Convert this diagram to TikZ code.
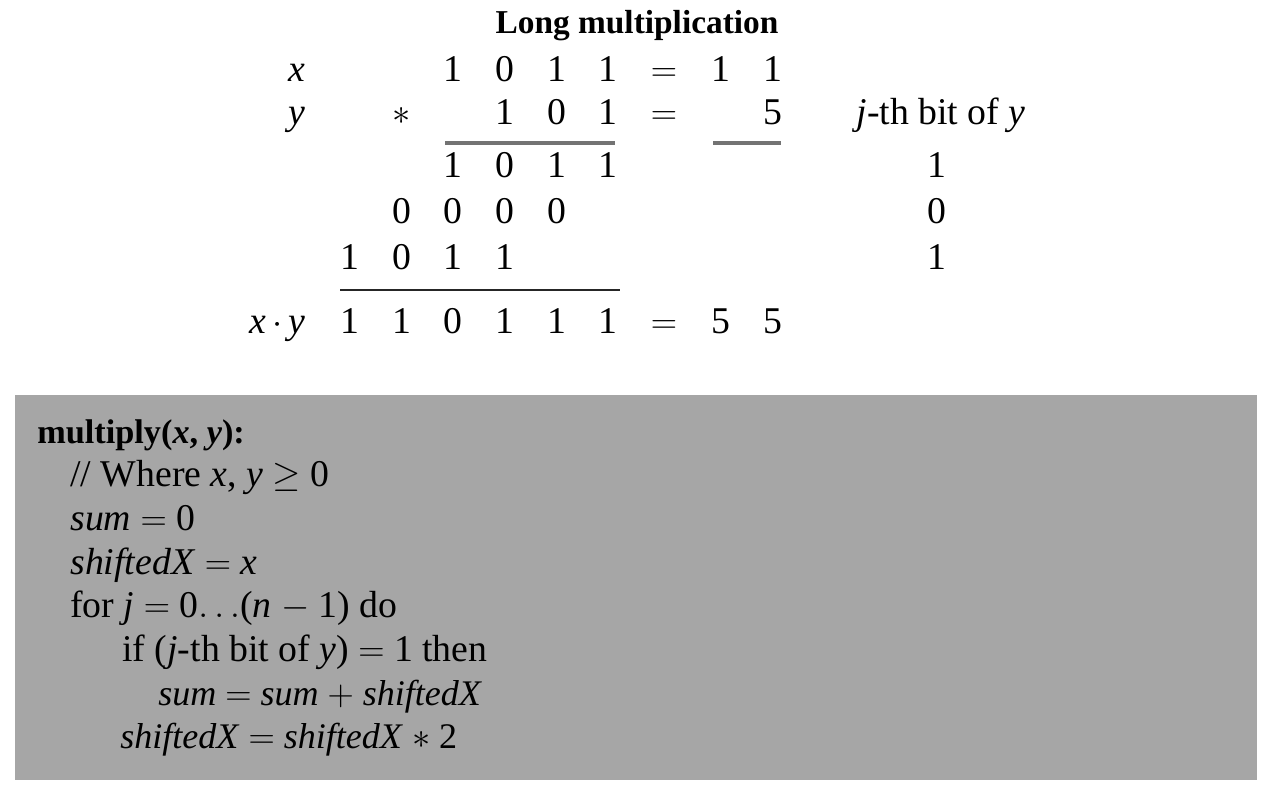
\documentclass[tikz,border=0pt]{standalone}
\usepackage{fontspec}
\setmainfont{Liberation Serif}
\definecolor{boxgray}{HTML}{A6A6A6}
\newcommand{\mv}[1]{\textit{#1}}
\tikzset{
  digit/.style={anchor=base, inner sep=0pt, font=\fontsize{21.5}{26}\selectfont},
  codeline/.style={anchor=base west, inner sep=0pt, font=\fontsize{21.5}{26}\selectfont},
  sumrule/.style={line width=2pt, black!55},
  totalrule/.style={line width=1.1pt, black!85}
}
\begin{document}
\begin{tikzpicture}[x=0.02cm,y=-0.02cm]
\useasboundingbox (0,0) rectangle (1270,792);
\node[digit, font=\fontsize{19}{23}\selectfont\bfseries] (title) at (637,33) {Long multiplication};
\node[digit] (xlab) at (297,81) {\mv{x}};
\node[digit] (xa3) at (453,81) {1}; \node[digit] (xa4) at (505,81) {0};
\node[digit] (xa5) at (556.5,81) {1}; \node[digit] (xa6) at (608,81) {1};
\node[digit] (xeq) at (664,81) {$=$};
\node[digit] (xd1) at (721,81) {1}; \node[digit] (xd2) at (772.5,81) {1};
\node[digit] (ylab) at (297,124) {\mv{y}};
\node[digit] (times) at (401.5,124) {$\ast$};
\node[digit] (ya4) at (505,124) {1}; \node[digit] (ya5) at (556.5,124) {0};
\node[digit] (ya6) at (608,124) {1};
\node[digit] (yeq) at (664,124) {$=$};
\node[digit] (yd2) at (772.5,124) {5};
\node[digit] (bithead) at (941,124) {\mv{j}-th bit of \mv{y}};
\coordinate (ruleA1) at (445,143); \coordinate (ruleA2) at (615,143);
\coordinate (ruleB1) at (713,143); \coordinate (ruleB2) at (781,143);
\draw[sumrule] (ruleA1) -- (ruleA2);
\draw[sumrule] (ruleB1) -- (ruleB2);
\node[digit] (pa3) at (453,177) {1}; \node[digit] (pa4) at (505,177) {0};
\node[digit] (pa5) at (556.5,177) {1}; \node[digit] (pa6) at (608,177) {1};
\node[digit] (bit0) at (937,177) {1};
\node[digit] (pb2) at (401.5,223) {0}; \node[digit] (pb3) at (453,223) {0};
\node[digit] (pb4) at (505,223) {0}; \node[digit] (pb5) at (556.5,223) {0};
\node[digit] (bit1) at (937,223) {0};
\node[digit] (pc1) at (350,269) {1}; \node[digit] (pc2) at (401.5,269) {0};
\node[digit] (pc3) at (453,269) {1}; \node[digit] (pc4) at (505,269) {1};
\node[digit] (bit2) at (937,269) {1};
\coordinate (ruleC1) at (340,290); \coordinate (ruleC2) at (620,290);
\draw[totalrule] (ruleC1) -- (ruleC2);
\node[digit, anchor=base east] (xylab) at (306,333) {\mv{x}\,$\cdot$\,\mv{y}};
\node[digit] (r1) at (350,333) {1}; \node[digit] (r2) at (401.5,333) {1};
\node[digit] (r3) at (453,333) {0}; \node[digit] (r4) at (505,333) {1};
\node[digit] (r5) at (556.5,333) {1}; \node[digit] (r6) at (608,333) {1};
\node[digit] (req) at (664,333) {$=$};
\node[digit] (rd1) at (721,333) {5}; \node[digit] (rd2) at (772.5,333) {5};
\fill[boxgray] (15,395) rectangle (1257,780);
\node[codeline, font=\fontsize{19.5}{23}\selectfont] (head) at (37,443) {\textbf{multiply(\mv{x}, \mv{y}):}};
\node[codeline] (cmt) at (70,486.6) {// Where \mv{x}, \mv{y} $\geq$ 0};
\node[codeline] (init1) at (70,530) {\mv{sum} $=$ 0};
\node[codeline] (init2) at (70,574) {\mv{shiftedX} $=$ \mv{x}};
\node[codeline] (loop) at (70,617) {for \mv{j} $=$ 0$\ldots$(\mv{n} $-$ 1) do};
\node[codeline] (test) at (122,661) {if (\mv{j}-th bit of \mv{y}) $=$ 1 then};
\node[codeline, font=\fontsize{20.5}{25}\selectfont] (add) at (158,705) {\mv{sum} $=$ \mv{sum} $+$ \mv{shiftedX}};
\node[codeline, font=\fontsize{20.5}{25}\selectfont] (shift) at (120,748) {\mv{shiftedX} $=$ \mv{shiftedX} $\ast$ 2};
\end{tikzpicture}
\end{document}
